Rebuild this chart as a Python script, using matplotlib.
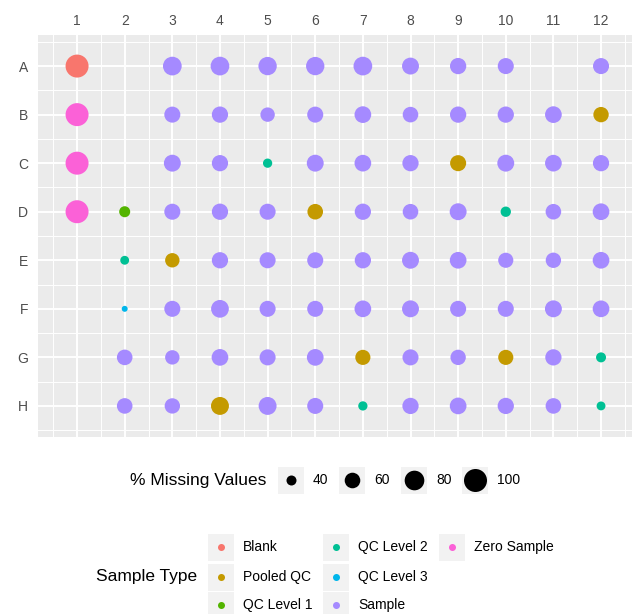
import matplotlib.pyplot as plt
import numpy as np

plt.rcParams['font.family'] = ['Liberation Sans', 'DejaVu Sans']

row_labels = ["A", "B", "C", "D", "E", "F", "G", "H"]
col_labels = ["1", "2", "3", "4", "5", "6", "7", "8", "9", "10", "11", "12"]

type_order = ["Blank", "Pooled QC", "QC Level 1", "QC Level 2",
              "QC Level 3", "Sample", "Zero Sample"]
type_colors = ["#F8766D", "#C49A00", "#53B400", "#00C094",
               "#00B6EB", "#A58AFF", "#FB61D7"]

wells = [
    "A1", "A3", "A4", "A5", "A6", "A7", "A8", "A9", "A10", "A12",
    "B1", "B3", "B4", "B5", "B6", "B7", "B8", "B9", "B10", "B11", "B12",
    "C1", "C3", "C4", "C5", "C6", "C7", "C8", "C9", "C10", "C11", "C12",
    "D1", "D2", "D3", "D4", "D5", "D6", "D7", "D8", "D9", "D10", "D11", "D12",
    "E2", "E3", "E4", "E5", "E6", "E7", "E8", "E9", "E10", "E11", "E12",
    "F2", "F3", "F4", "F5", "F6", "F7", "F8", "F9", "F10", "F11", "F12",
    "G2", "G3", "G4", "G5", "G6", "G7", "G8", "G9", "G10", "G11", "G12",
    "H2", "H3", "H4", "H5", "H6", "H7", "H8", "H9", "H10", "H11", "H12",
]

sample_type = [
    # A
    "Blank", "Sample", "Sample", "Sample", "Sample", "Sample", "Sample",
    "Sample", "Sample", "Sample",
    # B
    "Zero Sample", "Sample", "Sample", "Sample", "Sample", "Sample", "Sample",
    "Sample", "Sample", "Sample", "Pooled QC",
    # C
    "Zero Sample", "Sample", "Sample", "QC Level 2", "Sample", "Sample",
    "Sample", "Pooled QC", "Sample", "Sample", "Sample",
    # D
    "Zero Sample", "QC Level 1", "Sample", "Sample", "Sample", "Pooled QC",
    "Sample", "Sample", "Sample", "QC Level 2", "Sample", "Sample",
    # E
    "QC Level 2", "Pooled QC", "Sample", "Sample", "Sample", "Sample",
    "Sample", "Sample", "Sample", "Sample", "Sample",
    # F
    "QC Level 3", "Sample", "Sample", "Sample", "Sample", "Sample",
    "Sample", "Sample", "Sample", "Sample", "Sample",
    # G
    "Sample", "Sample", "Sample", "Sample", "Sample", "Pooled QC",
    "Sample", "Sample", "Pooled QC", "Sample", "QC Level 2",
    # H
    "Sample", "Sample", "Pooled QC", "Sample", "Sample", "QC Level 2",
    "Sample", "Sample", "Sample", "Sample", "QC Level 2",
]

pct_missing = [
    100, 75, 75, 73, 73, 75, 66, 63, 62, 62,
    100, 62, 63, 55, 62, 65, 60, 63, 63, 65, 59,
    100, 66, 63, 38, 66, 65, 63, 62, 66, 65, 63,
    100, 43, 62, 63, 62, 60, 63, 60, 66, 41, 60, 65,
    37, 55, 63, 62, 62, 63, 66, 65, 58, 59, 65,
    31, 62, 70, 62, 62, 65, 66, 62, 62, 66, 65,
    60, 55, 65, 62, 65, 58, 62, 59, 58, 63, 40,
    60, 59, 71, 71, 62, 38, 63, 65, 63, 60, 37,
]

size_breaks = [40, 60, 80, 100]


def marker_area(v):
    # area-proportional size scale, returned in pt^2 for scatter
    d_px = np.sqrt(np.maximum(7.15 * np.asarray(v, float) - 186, 25))
    return (d_px * 0.72) ** 2


color_of = dict(zip(type_order, type_colors))

x = [col_labels.index(w[1:]) + 1 for w in wells]
y = [row_labels.index(w[0]) + 1 for w in wells]
colors = [color_of[t] for t in sample_type]

W, H = 632, 614
fig = plt.figure(figsize=(W / 100, H / 100), dpi=100)
ax = fig.add_axes([38 / W, 1 - 437 / H, 1 - 38 / W, (437 - 35) / H])
ax.set_facecolor("#EBEBEB")
for s in ax.spines.values():
    s.set_visible(False)

ax.scatter(x, y, s=marker_area(pct_missing), c=colors, linewidths=0, zorder=3)

ax.set_xlim(0.18, 12.65)
ax.set_ylim(8.64, 0.36)
ax.set_xticks(range(1, 13))
ax.set_xticklabels(col_labels)
ax.set_yticks(range(1, 9))
ax.set_yticklabels(row_labels)
ax.set_xticks(np.arange(0.5, 13, 1), minor=True)
ax.set_yticks(np.arange(0.5, 9, 1), minor=True)
ax.xaxis.tick_top()
ax.tick_params(which="both", length=0)
ax.tick_params(axis="x", pad=5, labelsize=10, labelcolor="#4D4D4D")
ax.tick_params(axis="y", pad=7, labelsize=10, labelcolor="#4D4D4D")
ax.grid(which="major", color="white", linewidth=1.4, zorder=1)
ax.grid(which="minor", color="white", linewidth=0.7, zorder=1)
ax.set_axisbelow(True)

# legends drawn in pixel space
lg = fig.add_axes([0, 0, 1, 1], zorder=-1)
lg.set_xlim(0, W)
lg.set_ylim(H, 0)
lg.axis("off")

# size legend
lg.text(130, 480, "% Missing Values", fontsize=12.5, ha="left", va="center")
key_x = [291, 352, 414, 475]
for kx, v in zip(key_x, size_breaks):
    lg.add_patch(plt.Rectangle((kx - 13, 480 - 13.5), 26, 27,
                               facecolor="#F2F2F2", edgecolor="none"))
    lg.scatter([kx], [480], s=marker_area([v]), c="black", linewidths=0)
    lg.text(kx + 22, 480, str(v), fontsize=10, ha="left", va="center")

# sample type legend
lg.text(96, 577, "Sample Type", fontsize=12.5, ha="left", va="center")
col_x = [220.5, 336, 452]
row_y = [547, 577, 605]
for i, (t, c) in enumerate(zip(type_order, type_colors)):
    kx = col_x[i // 3]
    ky = row_y[i % 3]
    lg.add_patch(plt.Rectangle((kx - 13, ky - 13.5), 26, 27,
                               facecolor="#F2F2F2", edgecolor="none"))
    lg.scatter([kx], [ky], s=(7 * 0.72) ** 2, c=c, linewidths=0)
    lg.text(kx + 22.5, ky, t, fontsize=10, ha="left", va="center")

fig.savefig("out.png", dpi=100)
